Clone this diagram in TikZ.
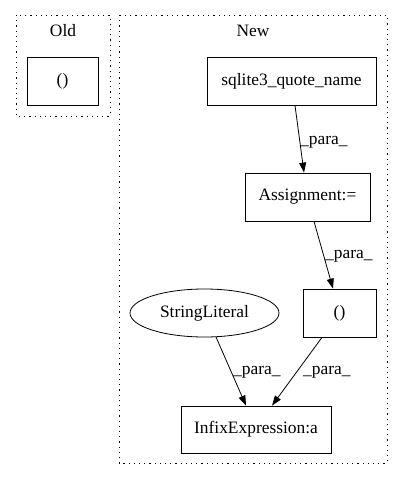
\documentclass[tikz,border=0pt]{standalone}
\usepackage{fontspec}
\setmainfont{Liberation Serif}
\usetikzlibrary{arrows.meta,shapes.geometric}
\begin{document}
\begin{tikzpicture}[x=1pt,y=-1pt,
  font=\fontsize{17.4pt}{20pt}\selectfont,
  cluster/.style={draw, line width=0.9pt, dash pattern=on 1.2pt off 4pt},
  box/.style={draw, line width=0.8pt, rectangle, inner sep=0pt},
  edge/.style={draw, line width=0.8pt, -{Triangle[length=10pt,width=7pt]}},
  lbl/.style={inner sep=0pt}]
\useasboundingbox (0,0) rectangle (403,480);
\draw[cluster] (16,15) rectangle (110,116);
\draw[cluster] (119,15) rectangle (387,463);
\node[lbl] (oldlbl) at (63,31) {Old};
\node[lbl] (newlbl) at (253,31) {New};
\node[box, minimum width=71pt, minimum height=48pt] (old) at (62.5,81) {()};
\node[box, minimum width=169pt, minimum height=48pt] (sq) at (291.5,81) {sqlite3\_quote\_name};
\node[box, minimum width=125pt, minimum height=48pt] (as) at (307.5,197) {Assignment:=};
\node[box, minimum width=73pt, minimum height=48pt] (par) at (339.5,313) {()};
\node[draw, line width=0.8pt, ellipse, minimum width=149pt, minimum height=48pt, inner sep=0pt] (sl) at (204.5,313) {StringLiteral};
\node[box, minimum width=150pt, minimum height=47pt] (inf) at (256,429.5) {InfixExpression:a};
\coordinate (a1) at (295,105); \coordinate (b1) at (304,173);
\coordinate (a2) at (314,221); \coordinate (b2) at (333,289);
\coordinate (a3) at (216,337); \coordinate (b3) at (246,406);
\coordinate (a4) at (322,337); \coordinate (b4) at (272,406);
\draw[edge] (sq.south -| a1) -- (as.north -| b1);
\draw[edge] (as.south -| a2) -- (par.north -| b2);
\draw[edge] (a3) -- (inf.north -| b3);
\draw[edge] (par.south -| a4) -- (inf.north -| b4);
\node[lbl, anchor=west] (l1) at (300,142) {\_para\_};
\node[lbl, anchor=west] (l2) at (325,256) {\_para\_};
\node[lbl, anchor=west] (l3) at (233,372) {\_para\_};
\node[lbl, anchor=west] (l4) at (303,372) {\_para\_};
\end{tikzpicture}
\end{document}
